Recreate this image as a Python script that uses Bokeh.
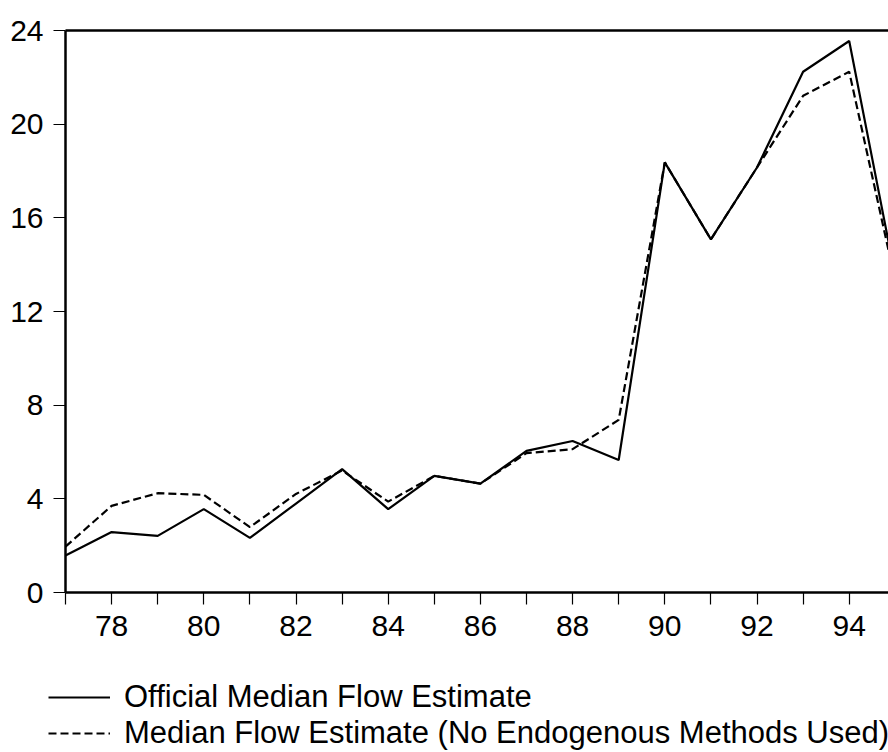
from bokeh.plotting import figure
from bokeh.layouts import column, row
from bokeh.models import (Range1d, FixedTicker, LinearAxis, Legend, LegendItem)
from bokeh.embed import file_html
from bokeh.resources import INLINE

# ---- data ----
years = [77, 78, 79, 80, 81, 82, 83, 84, 85, 86, 87, 88, 89, 90, 91, 92, 93, 94, 95]
official = [1.58, 2.58, 2.42, 3.56, 2.33, 3.8, 5.27, 3.56, 4.98, 4.65, 6.05, 6.47,
            5.66, 18.37, 15.08, 18.15, 22.24, 23.55, 13.5]
no_endog = [1.96, 3.70, 4.24, 4.17, 2.79, 4.21, 5.21, 3.88, 4.98, 4.65, 5.95, 6.12,
            7.37, 18.37, 15.08, 18.15, 21.21, 22.24, 13.3]
x_tick_labels = ["78", "80", "82", "84", "86", "88", "90", "92", "94"]
y_ticks = [0, 4, 8, 12, 16, 20, 24]
series_names = ["Official Median Flow Estimate",
                "Median Flow Estimate (No Endogenous Methods Used)"]

FONT = "Liberation Sans"

p = figure(width=888, height=665, output_backend="svg", toolbar_location=None,
           x_range=Range1d(77, 77 + 823 / 46.1), y_range=Range1d(0, 24),
           min_border_left=65, min_border_right=0, min_border_top=30,
           min_border_bottom=73, x_axis_type=None, y_axis_type=None)
p.outline_line_color = None
p.grid.visible = False
p.background_fill_color = "white"
p.border_fill_color = "white"

# bottom axis
xaxis = LinearAxis(ticker=FixedTicker(ticks=years))
overrides = {y: "" for y in years}
for lab in x_tick_labels:
    overrides[int(lab)] = lab
xaxis.major_label_overrides = overrides
xaxis.axis_line_width = 2.5
xaxis.axis_line_color = "black"
xaxis.major_tick_in = 0
xaxis.major_tick_out = 12
xaxis.major_tick_line_width = 1.2
xaxis.minor_tick_line_color = None
xaxis.major_label_standoff = 11
xaxis.major_label_text_font = FONT
xaxis.major_label_text_font_size = "30px"
xaxis.major_label_text_color = "black"
p.add_layout(xaxis, "below")

# left axis
yaxis = LinearAxis(ticker=FixedTicker(ticks=y_ticks))
yaxis.axis_line_width = 2.5
yaxis.axis_line_color = "black"
yaxis.major_tick_in = 0
yaxis.major_tick_out = 12
yaxis.major_tick_line_width = 1.2
yaxis.minor_tick_line_color = None
yaxis.major_label_standoff = 10
yaxis.major_label_text_font = FONT
yaxis.major_label_text_font_size = "30px"
yaxis.major_label_text_color = "black"
p.add_layout(yaxis, "left")

# top frame line
top = LinearAxis(ticker=FixedTicker(ticks=[]))
top.axis_line_width = 2.5
top.axis_line_color = "black"
top.major_tick_line_color = None
top.minor_tick_line_color = None
top.major_label_text_font_size = "0px"
top.major_label_standoff = 0
top.major_tick_out = 0
p.add_layout(top, "above")

p.line(years, official, line_color="black", line_width=2.2)
p.line(years, no_endog, line_color="black", line_width=2.2, line_dash="8 4")

# legend strip below the chart
q = figure(width=888, height=87, output_backend="svg", toolbar_location=None,
           x_range=Range1d(0, 1), y_range=Range1d(0, 1),
           min_border_left=0, min_border_right=0, min_border_top=0,
           min_border_bottom=0, x_axis_type=None, y_axis_type=None)
q.outline_line_color = None
q.grid.visible = False
q.background_fill_color = "white"
q.border_fill_color = "white"
l1 = q.line(years, official, line_color="black", line_width=2.2)
l2 = q.line(years, no_endog, line_color="black", line_width=2.2, line_dash="8 4")

legend = Legend(items=[LegendItem(label=series_names[0], renderers=[l1]),
                       LegendItem(label=series_names[1], renderers=[l2])],
                location=(48, 1), orientation="vertical",
                glyph_width=62, glyph_height=36, label_height=36,
                label_standoff=14, spacing=0, padding=0, margin=0,
                border_line_color=None, background_fill_alpha=0,
                label_text_font=FONT, label_text_font_size="31px",
                label_text_color="black")
q.add_layout(legend, "center")

layout = column(p, row(q, spacing=0), spacing=0)
open("out.html", "w").write(file_html(layout, INLINE))
